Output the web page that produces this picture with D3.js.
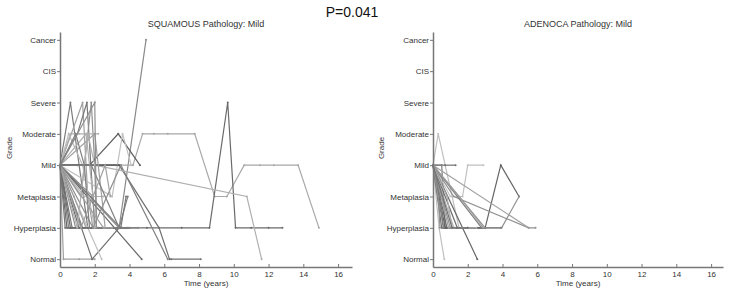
<!DOCTYPE html>
<html>
<head>
<meta charset="utf-8">
<script src="https://cdn.jsdelivr.net/npm/d3@7"></script>
<style>
  body { margin: 0; background: #fff; }
  text { font-family: Arial, "Liberation Sans", sans-serif; }
</style>
</head>
<body>
<div id="chart"></div>
<script>
// grade categories, bottom to top
let grades = ["Normal", "Hyperplasia", "Metaplasia", "Mild", "Moderate", "Severe", "CIS", "Cancer"];
let xTicks = [0, 2, 4, 6, 8, 10, 12, 14, 16];

// patient trajectories, [time in years, grade index]
let squamousPaths = [
    [[0,3],[3.4,1],[4.95,7]],
    [[0,3],[4.2,3],[4.75,4],[5.4,4],[6.2,4],[7.75,4],[8.9,2],[9.6,2],[10.6,3],[11.5,3],[12.3,3],[13.7,3],[14.9,1]],
    [[0,3],[0.4,1],[2.5,1],[5.0,1],[7.0,1],[8.6,1],[9.65,5],[10.1,1],[11.0,1],[12.0,1],[12.8,1]],
    [[0,3],[3.4,3],[5.7,1],[6.3,0],[6.4,0],[8.1,0]],
    [[0,3],[3.5,3],[6.2,0]],
    [[0,3],[2.0,3],[10.75,2],[11.6,0]],
    [[0,3],[0.6,5],[1.1,3],[1.6,1],[3.8,1]],
    [[0,3],[1.3,5],[1.6,2],[1.9,1]],
    [[0,3],[1.0,4],[1.55,5],[2.0,1]],
    [[0,3],[1.2,2],[1.8,5],[2.0,3],[2.1,1]],
    [[0,3],[0.6,4],[1.1,4],[1.6,4],[2.2,4]],
    [[0,3],[1.7,3],[3.35,4],[4.6,3]],
    [[0,3],[3.0,2],[3.6,4],[4.1,3]],
    [[0,3],[0.2,0],[1.1,0],[2.0,0]],
    [[0,3],[1.85,0],[3.4,1],[3.9,1]],
    [[0,3],[2.4,0]],
    [[0,3],[4.7,0]],
    [[0,3],[0.5,1],[1.2,1],[3.6,1]],
    [[0,3],[0.7,1],[2.0,1],[4.0,1]],
    [[0,3],[0.9,1],[1.4,1]],
    [[0,3],[1.1,1],[2.2,1],[3.5,1]],
    [[0,3],[1.3,1],[3.5,1],[4.5,1]],
    [[0,3],[0.8,2],[1.5,1]],
    [[0,3],[1.4,2],[2.5,2]],
    [[0,3],[1.9,2],[2.0,1]],
    [[0,3],[0.5,4],[1.3,3],[2.0,1]],
    [[0,3],[1.0,3],[2.0,3],[3.4,3]],
    [[0,3],[1.5,4],[1.9,2],[2.4,2]],
    [[0,3],[2.0,4],[2.6,1]],
    [[0,3],[1.8,3],[3.4,1],[3.9,2]],
    [[0,3],[1.9,1],[3.5,3]],
    [[0,3],[0.3,1],[0.6,1]],
    [[0,3],[0.6,1],[1.8,1]],
    [[0,3],[1.0,1],[1.6,4],[2.0,3]],
    [[0,3],[1.2,1],[2.6,3],[2.9,2]],
    [[0,3],[2.0,5],[2.1,1]],
    [[0,3],[0.9,4],[1.4,3],[1.7,1]],
    [[0,3],[3.5,1],[3.8,2]],
    [[0,3],[2.5,1],[3.0,1]]
];

let adenocaPaths = [
    [[0,3],[0.3,4],[1.1,2],[1.5,1]],
    [[0,3],[0.7,3],[1.3,3]],
    [[0,3],[0.5,3],[0.7,1],[1.5,1]],
    [[0,3],[1.0,2],[1.7,2],[2.0,3],[2.9,3]],
    [[0,3],[0.8,1],[3.0,1],[3.9,3],[4.95,2]],
    [[0,3],[1.0,1],[3.95,1],[4.95,2]],
    [[0,3],[1.2,2],[5.5,1],[5.9,1]],
    [[0,3],[2.55,0]],
    [[0,3],[0.35,1],[0.65,0]],
    [[0,3],[0.5,1],[1.2,1],[3.0,1]],
    [[0,3],[0.6,1],[1.0,1]],
    [[0,3],[0.7,1],[2.0,1],[3.0,1]],
    [[0,3],[0.9,1],[1.3,1]],
    [[0,3],[1.2,1],[2.5,1]],
    [[0,3],[3.0,1]],
    [[0,3],[2.8,1],[3.9,1]],
    [[0,3],[1.4,1],[2.0,1]],
    [[0,3],[0.8,2],[1.1,1]],
    [[0,3],[1.5,2],[2.9,1]],
    [[0,3],[0.4,2],[0.6,1]],
    [[0,3],[5.5,1]],
    [[0,3],[0.3,2],[0.4,1]],
    [[0,3],[1.1,1],[1.4,1]]
];

// grey tones, picked per line by index
let squamousTone = ["#8a8a8a","#a8a8a8","#6a6a6a","#707070","#808080","#b0b0b0","#7a7a7a","#a0a0a0","#777","#909090",
    "#b0b0b0","#606060","#c0c0c0","#a0a0a0","#707070","#c0c0c0","#666","#808080","#777","#909090",
    "#6a6a6a","#808080","#a0a0a0","#b0b0b0","#909090","#bbb","#5a5a5a","#b0b0b0","#a0a0a0","#808080",
    "#909090","#777","#6a6a6a","#b0b0b0","#a0a0a0","#909090","#808080","#777","#a0a0a0"];
let adenocaTone = ["#c0c0c0","#707070","#808080","#c0c0c0","#666","#909090","#909090","#666","#c0c0c0","#707070",
    "#808080","#606060","#a0a0a0","#b0b0b0","#909090","#808080","#707070","#b0b0b0","#a0a0a0","#808080",
    "#a0a0a0","#909090","#707070"];

let W = 729, H = 293;
let plotTop = 32, plotBottom = 267;
let axisGrey = "#777", textGrey = "#333";

let svg = d3.select("#chart").append("svg")
    .attr("width", W)
    .attr("height", H);

svg.append("text")
    .attr("x", 352)
    .attr("y", 17)
    .attr("text-anchor", "middle")
    .attr("font-size", "14px")
    .attr("fill", "#111")
    .text("P=0.041");

let panels = [
    {title: "SQUAMOUS Pathology: Mild", paths: squamousPaths, tone: squamousTone, left: 60, right: 352, labelX: 12},
    {title: "ADENOCA Pathology: Mild", paths: adenocaPaths, tone: adenocaTone, left: 433, right: 723, labelX: 384}
];

panels.forEach(drawPanel);

function drawPanel(p) {
    let x = d3.scaleLinear()
        .domain([0, (p.right - p.left) / 17.38])
        .range([p.left, p.right]);
    let y = d3.scaleLinear()
        .domain([-0.25, 7.25])
        .range([plotBottom, plotTop]);

    let g = svg.append("g");

    // trajectories
    let line = d3.line()
        .x(d => x(d[0]))
        .y(d => y(d[1]));

    p.paths.forEach(function(path, i) {
        let c = p.tone[i % p.tone.length];
        g.append("path")
            .datum(path)
            .attr("fill", "none")
            .attr("stroke", c)
            .attr("stroke-width", 1.2)
            .attr("d", line);
        g.selectAll(null)
            .data(path)
            .enter()
            .append("circle")
            .attr("cx", d => x(d[0]))
            .attr("cy", d => y(d[1]))
            .attr("r", 1)
            .attr("fill", c);
    });

    // y axis
    let yAxis = g.append("g")
        .attr("transform", "translate(" + p.left + ",0)")
        .call(d3.axisLeft(y)
            .tickValues(d3.range(grades.length))
            .tickFormat(i => grades[i])
            .tickSizeInner(3)
            .tickSizeOuter(0)
            .tickPadding(1));

    // x axis
    let xAxis = g.append("g")
        .attr("transform", "translate(0," + plotBottom + ")")
        .call(d3.axisBottom(x)
            .tickValues(xTicks)
            .tickSizeInner(-3)
            .tickSizeOuter(0)
            .tickPadding(4));

    [yAxis, xAxis].forEach(function(a) {
        a.select(".domain").attr("stroke", axisGrey).attr("stroke-width", 1.5);
        a.selectAll(".tick line").attr("stroke", axisGrey);
        a.selectAll(".tick text")
            .attr("fill", textGrey)
            .attr("font-size", "8px")
            .attr("font-family", "Arial, 'Liberation Sans', sans-serif");
    });

    // labels
    let mid = (p.left + p.right) / 2;
    g.append("text")
        .attr("x", mid)
        .attr("y", 27)
        .attr("text-anchor", "middle")
        .attr("font-size", "9px")
        .attr("fill", textGrey)
        .text(p.title);

    g.append("text")
        .attr("x", mid)
        .attr("y", 286)
        .attr("text-anchor", "middle")
        .attr("font-size", "8px")
        .attr("fill", textGrey)
        .text("Time (years)");

    g.append("text")
        .attr("transform", "translate(" + p.labelX + ",148) rotate(-90)")
        .attr("text-anchor", "middle")
        .attr("font-size", "8px")
        .attr("fill", textGrey)
        .text("Grade");
}
</script>
</body>
</html>
